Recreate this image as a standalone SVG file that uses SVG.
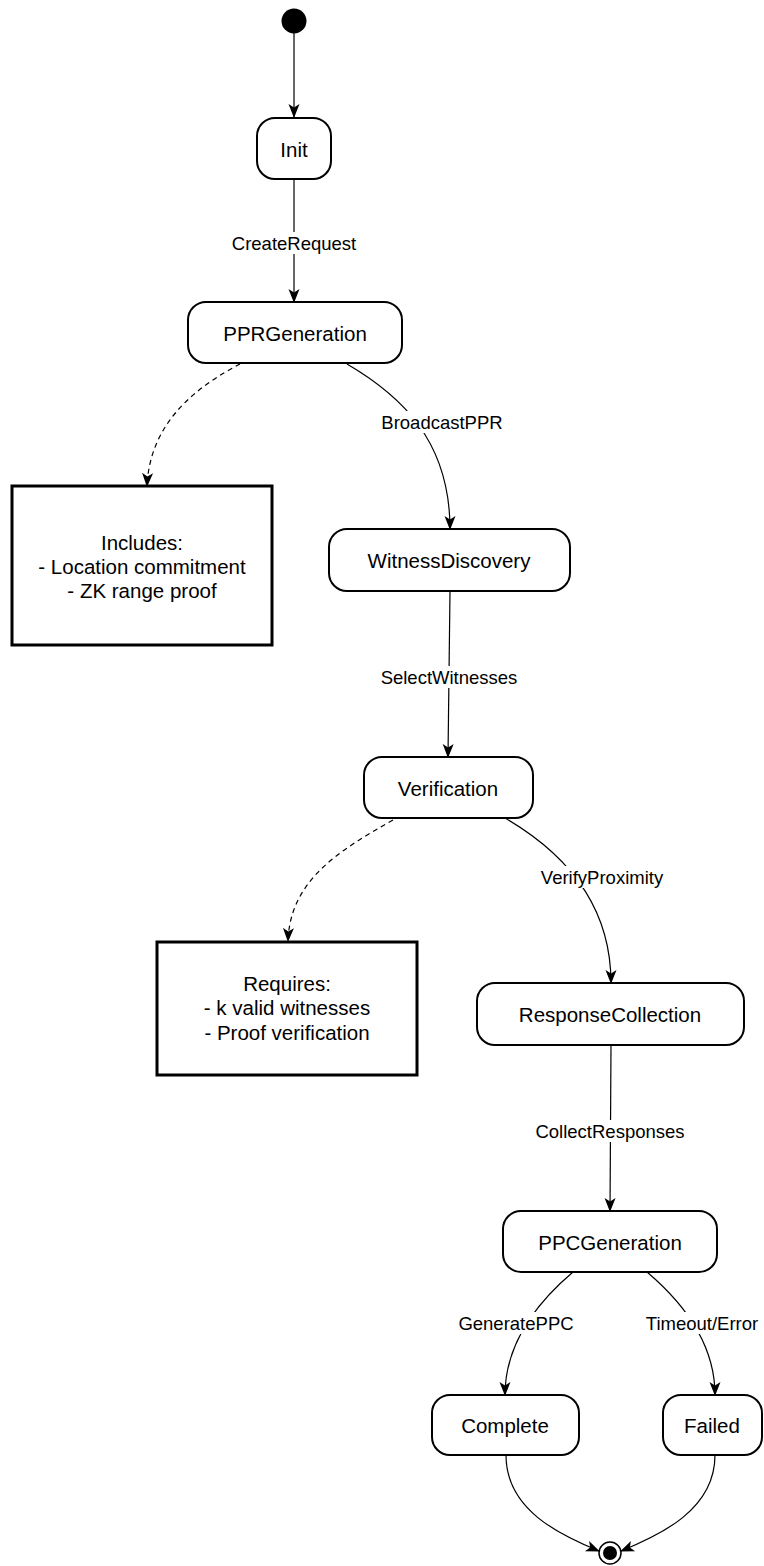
<svg xmlns="http://www.w3.org/2000/svg" width="764" height="1566" viewBox="0 0 764 1566">
<style>
.node rect{fill:#fff;stroke:#000;stroke-width:2}
.note rect{fill:#fff;stroke:#000;stroke-width:3}
text{font-family:"Liberation Sans",Arial,Helvetica,sans-serif;fill:#000;text-anchor:middle;dominant-baseline:central}
.nt{font-size:20.5px}
.lt{font-size:18.5px}
.edge{fill:none;stroke:#000;stroke-width:1.2}
.dash{stroke-dasharray:5 4}
.lbg{fill:#fff;stroke:none}
</style>
<defs>
<marker id="arr" viewBox="0 0 14 14" refX="13" refY="7" markerWidth="14" markerHeight="14" markerUnits="userSpaceOnUse" orient="auto">
<path d="M0,1.5 L14,7 L0,12.5 L3.5,7 z" fill="#000"/>
</marker>
</defs>
<rect width="764" height="1566" fill="#fff"/>
<g id="connectors">
<path class="edge" d="M294,33 L294,117" marker-end="url(#arr)"/>
<path class="edge" d="M294,179 L294,302" marker-end="url(#arr)"/>
<path class="edge dash" d="M240,364 C200,385 150,420 147,486" marker-end="url(#arr)"/>
<path class="edge" d="M347,364 C400,395 450,440 450,529" marker-end="url(#arr)"/>
<path class="edge" d="M450,591 L448,757" marker-end="url(#arr)"/>
<path class="edge dash" d="M393,820 C340,850 290,880 288,941" marker-end="url(#arr)"/>
<path class="edge" d="M505,818 C560,850 611,900 611,983" marker-end="url(#arr)"/>
<path class="edge" d="M611,1045 L610,1211" marker-end="url(#arr)"/>
<path class="edge" d="M573,1272 C540,1300 505,1340 505,1395" marker-end="url(#arr)"/>
<path class="edge" d="M647,1272 C680,1300 715,1340 715,1395" marker-end="url(#arr)"/>
<path class="edge" d="M506,1455 C506,1510 560,1535 599,1551" marker-end="url(#arr)"/>
<path class="edge" d="M715,1455 C715,1510 660,1535 621,1551" marker-end="url(#arr)"/>
<rect class="lbg" x="229" y="232" width="130" height="22"/>
<text class="lt" x="294" y="243">CreateRequest</text>
<rect class="lbg" x="378" y="411" width="128" height="22"/>
<text class="lt" x="442" y="422">BroadcastPPR</text>
<rect class="lbg" x="377" y="666" width="144" height="22"/>
<text class="lt" x="449" y="677">SelectWitnesses</text>
<rect class="lbg" x="538" y="866" width="128" height="22"/>
<text class="lt" x="602" y="877">VerifyProximity</text>
<rect class="lbg" x="532" y="1120" width="156" height="22"/>
<text class="lt" x="610" y="1131">CollectResponses</text>
<rect class="lbg" x="456" y="1312" width="120" height="22"/>
<text class="lt" x="516" y="1323">GeneratePPC</text>
<rect class="lbg" x="643" y="1312" width="118" height="22"/>
<text class="lt" x="702" y="1323">Timeout/Error</text>
</g>
<g id="start"><circle cx="294" cy="21" r="12.5" fill="#000"/></g>
<g id="Init" class="node"><rect x="257" y="118" width="74" height="61" rx="18"/><text class="nt" x="294" y="149">Init</text></g>
<g id="PPRGeneration" class="node"><rect x="188" y="302" width="214" height="61" rx="18"/><text class="nt" x="295" y="333">PPRGeneration</text></g>
<g id="note1" class="note"><rect x="12" y="486" width="260" height="159"/>
<text class="nt" x="142" y="542">Includes:</text>
<text class="nt" x="142" y="566">- Location commitment</text>
<text class="nt" x="142" y="590">- ZK range proof</text></g>
<g id="WitnessDiscovery" class="node"><rect x="329" y="529" width="241" height="62" rx="18"/><text class="nt" x="449" y="560">WitnessDiscovery</text></g>
<g id="Verification" class="node"><rect x="364" y="757" width="169" height="61" rx="18"/><text class="nt" x="448" y="788">Verification</text></g>
<g id="note2" class="note"><rect x="157" y="942" width="260" height="133"/>
<text class="nt" x="287" y="983">Requires:</text>
<text class="nt" x="287" y="1007">- k valid witnesses</text>
<text class="nt" x="287" y="1032">- Proof verification</text></g>
<g id="ResponseCollection" class="node"><rect x="477" y="983" width="267" height="62" rx="18"/><text class="nt" x="610" y="1014">ResponseCollection</text></g>
<g id="PPCGeneration" class="node"><rect x="503" y="1211" width="214" height="61" rx="18"/><text class="nt" x="610" y="1242">PPCGeneration</text></g>
<g id="Complete" class="node"><rect x="432" y="1395" width="147" height="60" rx="18"/><text class="nt" x="505" y="1425">Complete</text></g>
<g id="Failed" class="node"><rect x="663" y="1395" width="99" height="60" rx="18"/><text class="nt" x="712" y="1425">Failed</text></g>
<g id="end"><circle cx="610" cy="1553" r="11" fill="#fff" stroke="#000" stroke-width="1.5"/><circle cx="610" cy="1553" r="7" fill="#000"/></g>
</svg>
